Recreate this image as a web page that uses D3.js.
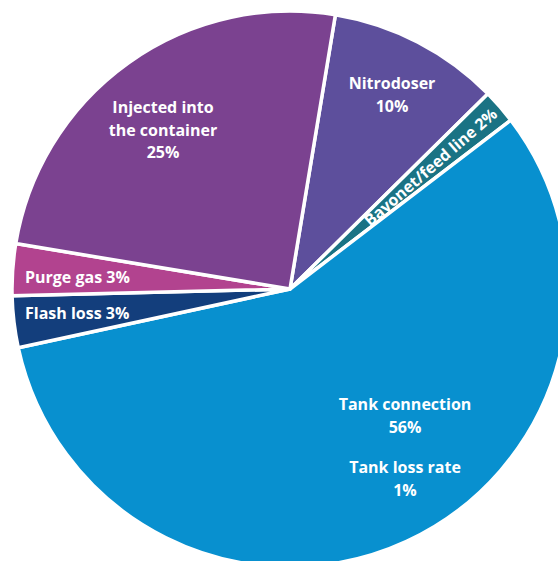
<!DOCTYPE html>
<html>
<head>
<meta charset="utf-8">
<script src="https://cdn.jsdelivr.net/npm/d3@7"></script>
<style>
  body { margin: 0; background: #fff; }
  .lbl { font-family: "Open Sans", sans-serif; font-weight: bold; fill: #fff; }
</style>
</head>
<body>
<div id="chart"></div>
<script>
// slices, clockwise from the top
var names = ["Nitrodoser", "Bayonet/feed line", "Tank connection", "Flash loss", "Purge gas", "Injected into the container"];
var values = [10, 2, 56, 3, 3, 25];
var tankLossRate = 1; // shown inside the tank connection slice
var colors = ["#5d4f9c", "#1a7384", "#0890cf", "#133e7c", "#b2438f", "#7b4290"];

var width = 558, height = 561;
var cx = 290, cy = 289, radius = 278;

var svg = d3.select("#chart").append("svg")
    .attr("width", width)
    .attr("height", height)
  .append("g")
    .attr("transform", "translate(" + cx + "," + cy + ")");

var data = names.map(function(n, i) {
  return { name: n, value: values[i] + (i == 2 ? tankLossRate : 0), color: colors[i] };
});

var start = 9.4 * Math.PI / 180;
var pie = d3.pie()
    .sort(null)
    .value(function(d) { return d.value; })
    .startAngle(start)
    .endAngle(start + 2 * Math.PI);

var arc = d3.arc().innerRadius(0).outerRadius(radius);
var arcs = pie(data);

svg.selectAll("path.slice")
    .data(arcs)
  .enter().append("path")
    .attr("class", "slice")
    .attr("d", arc)
    .attr("fill", function(d) { return d.data.color; })
    .attr("stroke", "#fff")
    .attr("stroke-width", 3.5)
    .attr("stroke-linejoin", "round");

// label helper: lines centred at (x, y)
function label(x, y, lines, anchor) {
  var t = svg.append("text")
      .attr("class", "lbl")
      .attr("font-size", 16)
      .attr("text-anchor", anchor || "middle");
  lines.forEach(function(s, i) {
    t.append("tspan").attr("x", x - cx).attr("y", y - cy + i * 22.5).text(s);
  });
}

label(163, 113, ["Injected into", "the container", values[5] + "%"]);
label(392, 89, [names[0], values[0] + "%"]);
label(25, 283, [names[4] + " " + values[4] + "%"], "start");
label(25, 319, [names[3] + " " + values[3] + "%"], "start");
label(405, 410, [names[2], values[2] + "%"]);
label(405, 473, ["Tank loss rate", tankLossRate + "%"]);

// bayonet label runs along the thin slice, clipped to it
var b = arcs[1];
d3.select("svg").append("defs").append("clipPath").attr("id", "bclip")
  .append("path").attr("d", arc(b)).attr("transform", "translate(" + cx + "," + cy + ")");
var mid = (b.startAngle + b.endAngle) / 2;
var rot = mid * 180 / Math.PI - 90;
svg.append("g").attr("clip-path", "url(#bclip)")
  .attr("transform", "translate(" + (-cx) + "," + (-cy) + ")")
  .append("text")
    .attr("class", "lbl")
    .attr("font-size", 16)
    .attr("text-anchor", "end")
    .attr("transform", "translate(" + cx + "," + cy + ") rotate(" + rot + ") translate(271,6)")
    .text(names[1] + " " + values[1] + "%");
</script>
</body>
</html>
